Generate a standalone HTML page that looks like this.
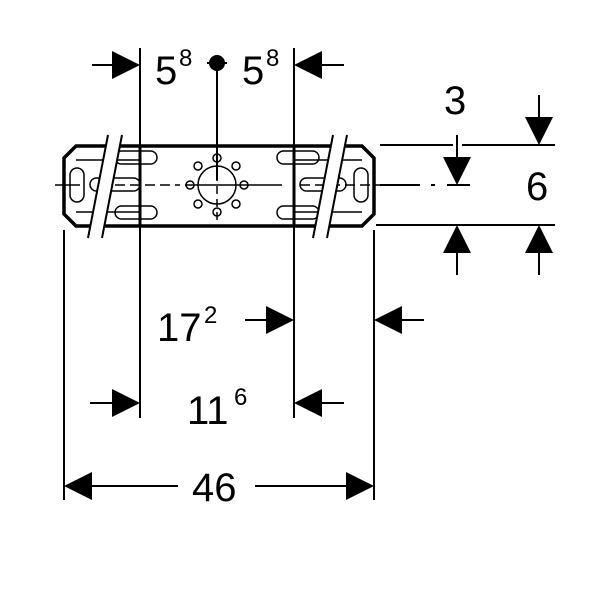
<!DOCTYPE html>
<html><head><style>html,body{margin:0;padding:0;background:#fff}svg{display:block}</style></head>
<body>
<svg width="600" height="600" viewBox="0 0 600 600" xmlns="http://www.w3.org/2000/svg" font-family="Liberation Sans, sans-serif">
<g stroke="#000" stroke-width="2" fill="none">
 <line x1="64" y1="230" x2="64" y2="500"/>
 <line x1="374" y1="230" x2="374" y2="500"/>
 <line x1="140" y1="48" x2="140" y2="418"/>
 <line x1="294" y1="48" x2="294" y2="418"/>
 <line x1="217" y1="63" x2="217" y2="180"/>
 <line x1="207" y1="63" x2="227" y2="63"/>
 <line x1="92" y1="65" x2="115" y2="65"/>
 <line x1="320" y1="65" x2="344" y2="65"/>
 <line x1="380" y1="145" x2="453" y2="145"/>
 <line x1="462" y1="145" x2="555" y2="145"/>
 <line x1="376" y1="225" x2="555" y2="225"/>
 <line x1="380" y1="185" x2="420" y2="185"/>
 <line x1="431" y1="185" x2="435" y2="185"/>
 <line x1="447" y1="185" x2="470" y2="185"/>
 <line x1="457" y1="135" x2="457" y2="160"/>
 <line x1="539" y1="95" x2="539" y2="120"/>
 <line x1="457" y1="250" x2="457" y2="275"/>
 <line x1="539" y1="250" x2="539" y2="275"/>
 <line x1="245" y1="320" x2="268" y2="320"/>
 <line x1="400" y1="320" x2="424" y2="320"/>
 <line x1="90" y1="403" x2="115" y2="403"/>
 <line x1="320" y1="403" x2="344" y2="403"/>
 <line x1="90" y1="486" x2="178" y2="486"/>
 <line x1="255" y1="486" x2="348" y2="486"/>
</g>
<g fill="#000">
 <polygon points="112,51 140,65 112,79"/>
 <polygon points="322,51 294,65 322,79"/>
 <circle cx="217" cy="63" r="8"/>
 <polygon points="443,157 471,157 457,185"/>
 <polygon points="525,117 553,117 539,145"/>
 <polygon points="443,253 471,253 457,225"/>
 <polygon points="525,253 553,253 539,225"/>
 <polygon points="266,306 294,320 266,334"/>
 <polygon points="402,306 374,320 402,334"/>
 <polygon points="112,389 140,403 112,417"/>
 <polygon points="322,389 294,403 322,417"/>
 <polygon points="92,472 64,486 92,500"/>
 <polygon points="346,472 374,486 346,500"/>
</g>
<g stroke="#000" fill="none">
 <polygon points="76,146 362,146 374,158 374,214 362,226 76,226 64,214 64,158" stroke-width="3.5"/>
 <line x1="140" y1="146" x2="140" y2="226" stroke-width="3"/>
 <line x1="294" y1="146" x2="294" y2="226" stroke-width="3"/>
 <g stroke-width="1.5">
  <line x1="55" y1="185" x2="80" y2="185"/>
  <line x1="100" y1="185" x2="180" y2="185" stroke-dasharray="10 5"/>
  <line x1="185" y1="185" x2="250" y2="185"/>
  <line x1="250" y1="185" x2="282" y2="185"/>
  <line x1="300" y1="185" x2="380" y2="185" stroke-dasharray="10 5"/>
  <line x1="217" y1="160" x2="217" y2="226" stroke-dasharray="8 5"/>
  <circle cx="217" cy="185" r="19"/>
  <circle cx="217" cy="158" r="4"/><circle cx="217" cy="212" r="4"/>
  <circle cx="190" cy="185" r="4"/><circle cx="244" cy="185" r="4"/>
  <circle cx="198" cy="166" r="4"/><circle cx="236" cy="166" r="4"/>
  <circle cx="198" cy="204" r="4"/><circle cx="236" cy="204" r="4"/>
  <rect x="70" y="168" width="14" height="34" rx="7"/>
  <rect x="354" y="168" width="14" height="34" rx="7"/>
  <rect x="115" y="151" width="42" height="13" rx="6.5"/>
  <rect x="115" y="206" width="42" height="13" rx="6.5"/>
  <rect x="90" y="178" width="50" height="13" rx="6.5"/>
  <rect x="277" y="151" width="42" height="13" rx="6.5"/>
  <rect x="277" y="206" width="42" height="13" rx="6.5"/>
  <rect x="300" y="178" width="46" height="13" rx="6.5"/>
  <line x1="76" y1="160" x2="140" y2="160"/><line x1="76" y1="212" x2="140" y2="212"/>
  <line x1="294" y1="160" x2="362" y2="160"/><line x1="294" y1="212" x2="362" y2="212"/>
 </g>
 <g stroke-width="2">
  <polygon points="108,135 122,135 102,238 88,238" fill="#fff" stroke="none"/>
  <line x1="108" y1="135" x2="88" y2="238"/>
  <line x1="122" y1="135" x2="102" y2="238"/>
  <polygon points="333,135 347,135 327,238 313,238" fill="#fff" stroke="none"/>
  <line x1="333" y1="135" x2="313" y2="238"/>
  <line x1="347" y1="135" x2="327" y2="238"/>
 </g>
</g>
<g fill="#000" font-size="40">
 <text x="155" y="84">5</text><text x="179" y="66" font-size="24">8</text>
 <text x="242" y="84">5</text><text x="266" y="66" font-size="24">8</text>
 <text x="444" y="114">3</text>
 <text x="526" y="200">6</text>
 <text x="157" y="341">17</text><text x="204" y="323" font-size="24">2</text>
 <text x="187" y="424">11</text><text x="234" y="405" font-size="24">6</text>
 <text x="192" y="501">46</text>
</g>
</svg>
</body></html>
